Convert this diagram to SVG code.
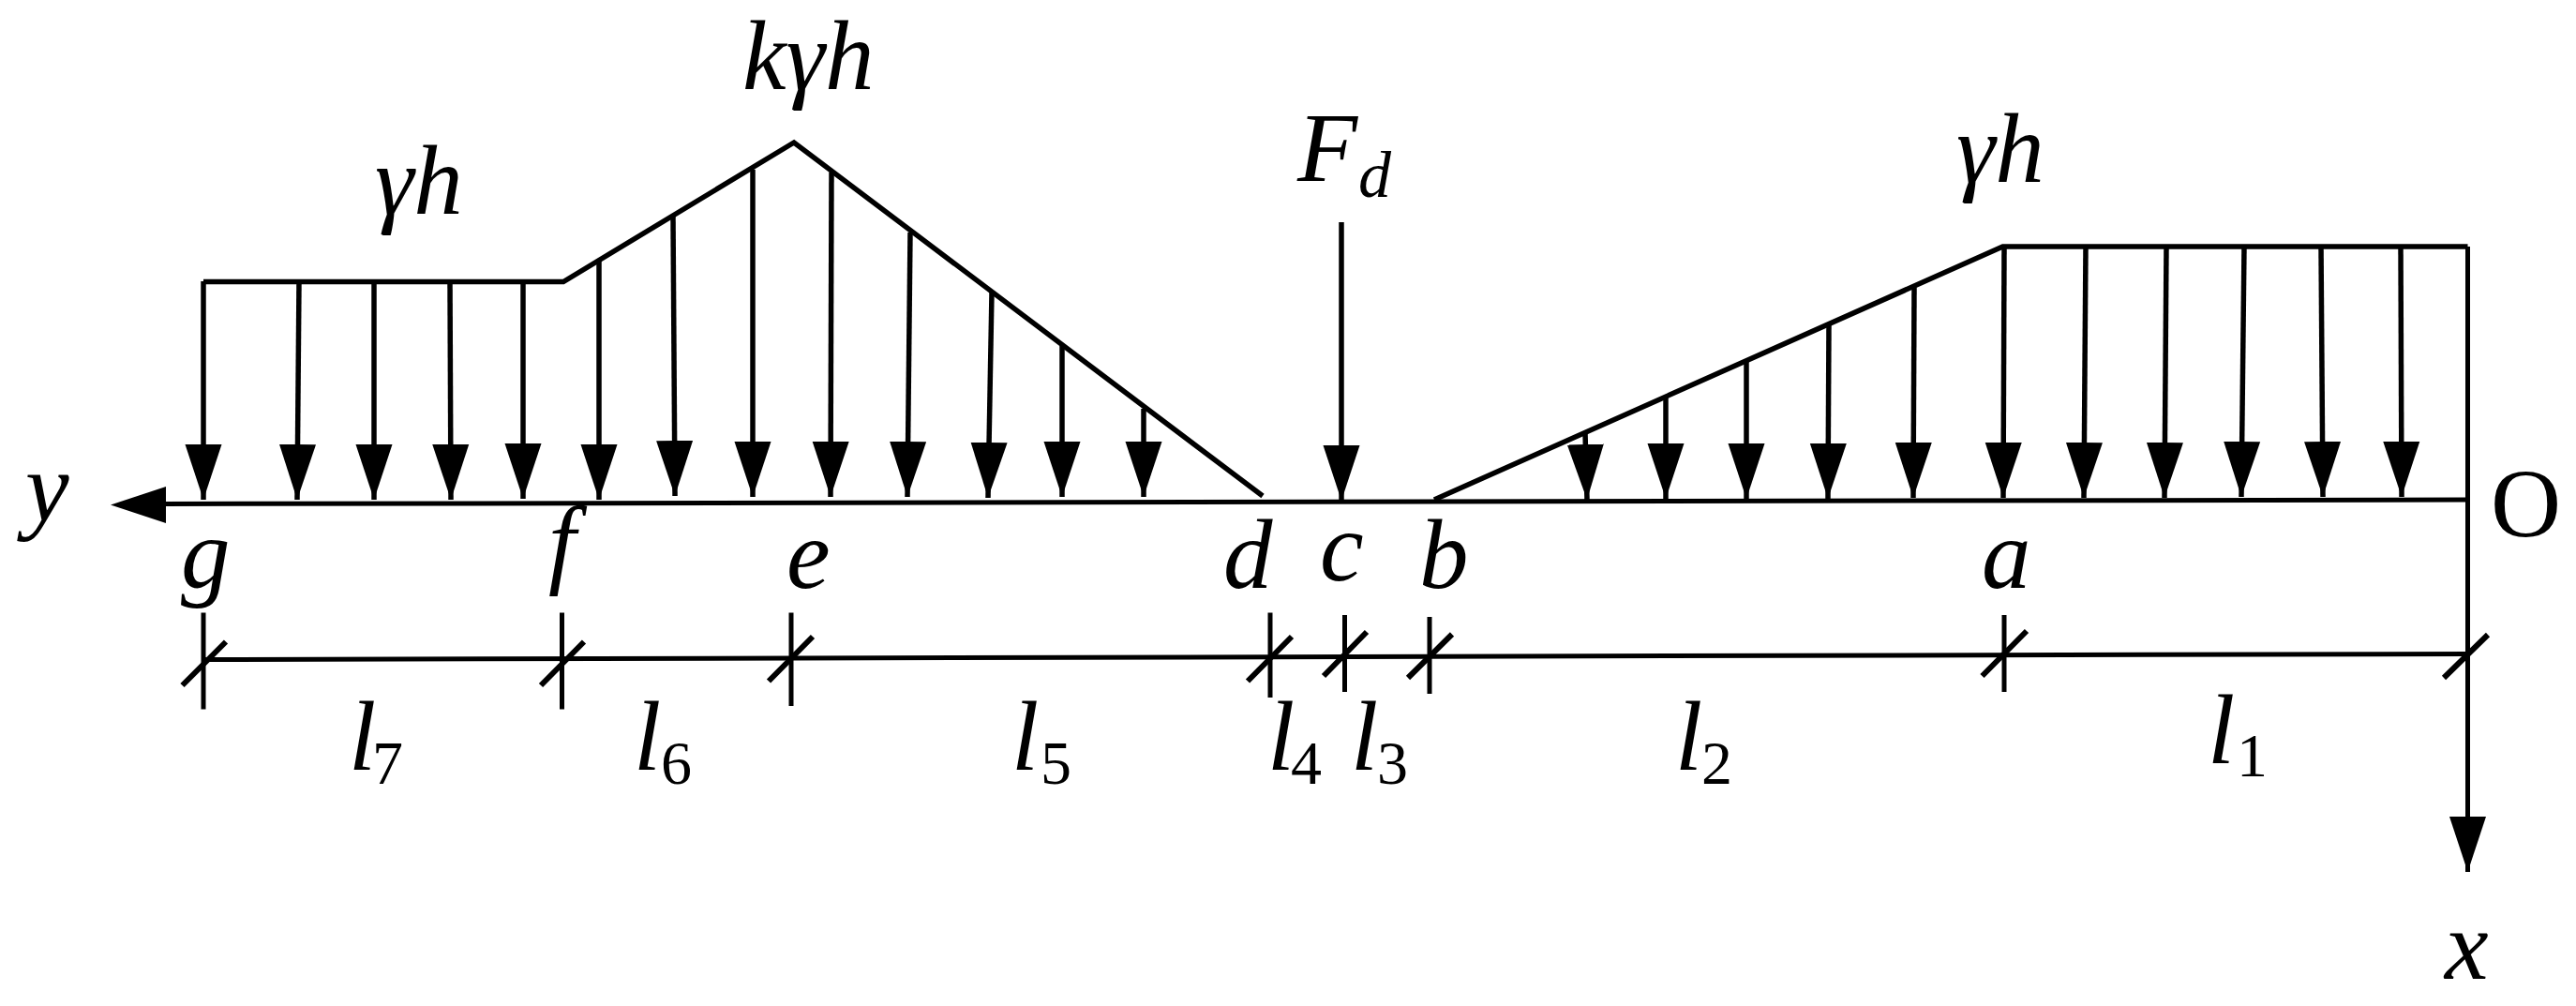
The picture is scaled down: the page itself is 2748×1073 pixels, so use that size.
<svg xmlns="http://www.w3.org/2000/svg" width="2748" height="1073" viewBox="0 0 2748 1073">
<style>
.bg{fill:#fff}
.load{fill:none;stroke:#000;stroke-width:5.500;stroke-linejoin:miter}
.ar{fill:none;stroke:#000;stroke-width:5.500;marker-end:url(#head)}
.ax{fill:none;stroke:#000;stroke-width:5}
.axv{fill:none;stroke:#000;stroke-width:5}
.dim{fill:none;stroke:#000;stroke-width:5}
.tk{fill:none;stroke:#000;stroke-width:5}
.sl{fill:none;stroke:#000;stroke-width:6}
text{font-family:"Liberation Serif","Times New Roman",serif;fill:#000}
.v{font-size:105px;font-style:italic}
.s{font-size:66px}
.si{font-size:70px;font-style:italic}
.o{font-size:104px}
</style>
<defs>
<marker id="head" markerUnits="userSpaceOnUse" markerWidth="60" markerHeight="42" refX="59" refY="20" orient="auto"><path d="M0,0.5L59,20L0,39.5Z" fill="#000"/></marker>
</defs>
<rect class="bg" width="2748" height="1073"/>
<g id="load-left">
<path class="load" d="M217,300.500H601L847,152L1347,529"/>
<g id="arrows-left">
<path class="ar" d="M217,300V533"/>
<path class="ar" d="M319,300L317,533"/>
<path class="ar" d="M399,300V533"/>
<path class="ar" d="M480,300L481,533"/>
<path class="ar" d="M558,300V532"/>
<path class="ar" d="M639,278V533"/>
<path class="ar" d="M718,231L720,529"/>
<path class="ar" d="M803,181V530"/>
<path class="ar" d="M887,184L886,530"/>
<path class="ar" d="M971,248L968,530"/>
<path class="ar" d="M1058,312L1054,531"/>
<path class="ar" d="M1133,369V530"/>
<path class="ar" d="M1220,436V530"/>
</g>
</g>
<g id="load-force">
<path class="ar" d="M1431,237V534"/>
</g>
<g id="load-right">
<path class="load" d="M1530,533L2136.500,263H2632.500"/>
<g id="arrows-right">
<path class="ar" d="M1691,462L1693,533"/>
<path class="ar" d="M1777,424V532"/>
<path class="ar" d="M1863,384V532"/>
<path class="ar" d="M1951,346L1950,532"/>
<path class="ar" d="M2042,307L2041,531"/>
<path class="ar" d="M2138,263L2137,531"/>
<path class="ar" d="M2225,263L2223,531"/>
<path class="ar" d="M2311,263L2309,531"/>
<path class="ar" d="M2394,263L2391,530"/>
<path class="ar" d="M2476,263L2478,530"/>
<path class="ar" d="M2561,263L2562,530"/>
</g>
</g>
<g id="axes">
<path class="ax" d="M2632,533L176,537.500"/>
<path d="M118,538.500L177,519V558Z" fill="#000"/>
<path class="axv" d="M2632.500,263V930" marker-end="url(#head)"/>
</g>
<g id="dimensions">
<path class="dim" d="M217,703.500L2632.500,697.500"/>
<path class="tk" d="M217,653.500V756.500M599.500,653.500V756.500M844,653.500V753M1355,653.500V744M1434.500,656V738M1525,658V740M2138,656V738"/>
<path class="sl" d="M194.500,731L241,684.500M577,731L623,684.500M820,726.500L867,679M1331,726.500L1378,679M1412,721L1458,674M1502,723L1549,676.500M2114.500,721L2162,673M2607,723L2654,677"/>
</g>
<g id="labels">
<text class="v" x="792" y="95">kγh</text>
<text class="v" x="400" y="228">γh</text>
<text class="v" x="2087" y="194">γh</text>
<text class="v" x="1384" y="193">F</text><text class="si" x="1449" y="210">d</text>
<text class="v" x="27" y="555">y</text>
<text class="v" x="193" y="626">g</text>
<text class="v" x="585" y="613">f</text>
<text class="v" x="839" y="627">e</text>
<text class="v" x="1305" y="627">d</text>
<text class="v" x="1408" y="619">c</text>
<text class="v" x="1514" y="627">b</text>
<text class="v" x="2114" y="627">a</text>
<text class="o" x="2657" y="572">O</text>
<text class="v" x="2608" y="1044">x</text>
<text class="v" x="372" y="821">l</text><text class="s" x="397" y="836">7</text>
<text class="v" x="676" y="821">l</text><text class="s" x="705" y="836">6</text>
<text class="v" x="1079" y="821">l</text><text class="s" x="1110" y="836">5</text>
<text class="v" x="1352" y="821">l</text><text class="s" x="1377" y="836">4</text>
<text class="v" x="1441" y="821">l</text><text class="s" x="1469" y="836">3</text>
<text class="v" x="1787" y="821">l</text><text class="s" x="1815" y="836">2</text>
<text class="v" x="2355" y="814">l</text><text class="s" x="2386" y="828">1</text>
</g>
</svg>
